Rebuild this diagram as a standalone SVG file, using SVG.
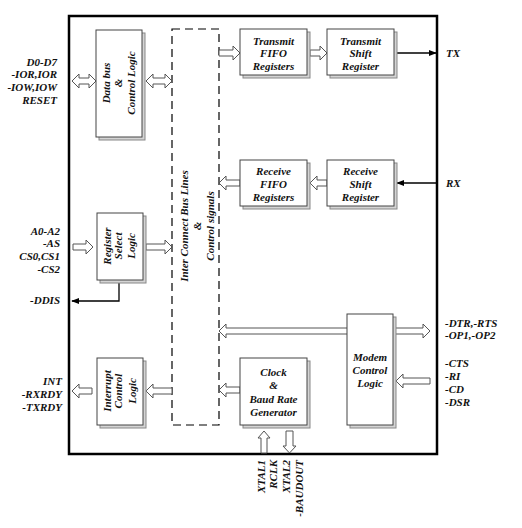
<svg xmlns="http://www.w3.org/2000/svg" width="522" height="528" viewBox="0 0 522 528">
<defs>
<style>
text{font-family:"Liberation Serif","Times New Roman",serif;font-weight:bold;font-style:italic;font-size:11px;fill:#111}
.c{text-anchor:middle}
.e{text-anchor:end}
.box{fill:#fff;stroke:#444;stroke-width:1}
.sh{fill:#d4d4d4;stroke:#888;stroke-width:1}
.ha{fill:#fff;stroke:#555;stroke-width:1}
.ln{fill:none;stroke:#000;stroke-width:1.3}
</style>
<marker id="ah" viewBox="0 0 10 10" refX="9" refY="5" markerWidth="8" markerHeight="8" markerUnits="userSpaceOnUse" orient="auto">
<path d="M0,1 L10,5 L0,9 Z" fill="#000"/>
</marker>
</defs>
<rect width="522" height="528" fill="#fff"/>
<g id="chip">
<rect x="69" y="16" width="368" height="438" fill="none" stroke="#000" stroke-width="2.5"/>
</g>
<g id="bus">
<rect x="172" y="29" width="47" height="396" fill="none" stroke="#000" stroke-width="1.2" stroke-dasharray="8,5"/>
<text transform="translate(187.5,226) rotate(-90)" class="c">Inter Connect Bus Lines</text>
<text transform="translate(201,226) rotate(-90)" class="c">&amp;</text>
<text transform="translate(214,226) rotate(-90)" class="c">Control signals</text>
</g>
<g id="connectors">
<path class="ha" d="M72,81 L79,74 L79,78 L89,78 L89,74 L96,81 L89,88 L89,84 L79,84 L79,88 Z"/>
<path class="ha" d="M146,81 L153,74 L153,78 L165,78 L165,74 L172,81 L165,88 L165,84 L153,84 L153,88 Z"/>
<path class="ha" d="M219,50 L233,50 L233,46 L240,53 L233,60 L233,56 L219,56 Z"/>
<path class="ha" d="M310,50 L320,50 L320,46 L327,53 L320,60 L320,56 L310,56 Z"/>
<line class="ln" x1="397" y1="53" x2="436" y2="53" marker-end="url(#ah)"/>
<path class="ha" d="M327,180 L317,180 L317,176 L310,183 L317,190 L317,186 L327,186 Z"/>
<path class="ha" d="M240,180 L226,180 L226,176 L219,183 L226,190 L226,186 L240,186 Z"/>
<line class="ln" x1="436" y1="183" x2="397" y2="183" marker-end="url(#ah)"/>
<path class="ha" d="M73,244 L86,244 L86,240 L93,247 L86,254 L86,250 L73,250 Z"/>
<path class="ha" d="M146,244 L165,244 L165,240 L172,247 L165,254 L165,250 L146,250 Z"/>
<polyline class="ln" points="119,283 119,301 72,301" marker-end="url(#ah)"/>
<path class="ha" d="M219,331 L226,324 L226,328 L423,328 L423,324 L430,331 L423,338 L423,334 L226,334 L226,338 Z"/>
<path class="ha" d="M430,378 L403,378 L403,374 L396,381 L403,388 L403,384 L430,384 Z"/>
<path class="ha" d="M240,387 L226,387 L226,383 L219,390 L226,397 L226,393 L240,393 Z"/>
<path class="ha" d="M172,388 L153,388 L153,384 L146,391 L153,398 L153,394 L172,394 Z"/>
<path class="ha" d="M92,388 L79,388 L79,384 L72,391 L79,398 L79,394 L92,394 Z"/>
<path class="ha" d="M261,453 L261,438 L258,438 L264,431 L270,438 L267,438 L267,453 Z"/>
<path class="ha" d="M286,431 L286,446 L283,446 L289.5,453 L296,446 L293,446 L293,431 Z"/>
</g>
<g id="databus">
<rect class="sh" x="99" y="33" width="46" height="107"/>
<rect class="box" x="96" y="30" width="46" height="107"/>
<text transform="translate(110,83) rotate(-90)" class="c">Data bus</text>
<text transform="translate(122,83) rotate(-90)" class="c">&amp;</text>
<text transform="translate(135,83) rotate(-90)" class="c">Control Logic</text>
</g>
<g id="regsel">
<rect class="sh" x="100" y="216" width="46" height="67"/>
<rect class="box" x="97" y="213" width="46" height="67"/>
<text transform="translate(110.5,246) rotate(-90)" class="c">Register</text>
<text transform="translate(122,246) rotate(-90)" class="c">Select</text>
<text transform="translate(135,246) rotate(-90)" class="c">Logic</text>
</g>
<g id="interrupt">
<rect class="sh" x="100" y="361" width="46" height="67"/>
<rect class="box" x="97" y="358" width="46" height="67"/>
<text transform="translate(110.5,391) rotate(-90)" class="c">Interrupt</text>
<text transform="translate(122,391) rotate(-90)" class="c">Control</text>
<text transform="translate(136,391) rotate(-90)" class="c">Logic</text>
</g>
<g id="txfifo">
<rect class="sh" x="243" y="32" width="67" height="46"/>
<rect class="box" x="240" y="29" width="67" height="46"/>
<text x="273.5" y="44.5" class="c">Transmit</text>
<text x="273.5" y="57" class="c">FIFO</text>
<text x="273.5" y="69.5" class="c">Registers</text>
</g>
<g id="txshift">
<rect class="sh" x="330" y="32" width="67" height="46"/>
<rect class="box" x="327" y="29" width="67" height="46"/>
<text x="360.5" y="44.5" class="c">Transmit</text>
<text x="360.5" y="57" class="c">Shift</text>
<text x="360.5" y="69.5" class="c">Register</text>
</g>
<g id="rxfifo">
<rect class="sh" x="243" y="163" width="67" height="46"/>
<rect class="box" x="240" y="160" width="67" height="46"/>
<text x="273.5" y="175" class="c">Receive</text>
<text x="273.5" y="187.5" class="c">FIFO</text>
<text x="273.5" y="200.5" class="c">Registers</text>
</g>
<g id="rxshift">
<rect class="sh" x="330" y="163" width="67" height="46"/>
<rect class="box" x="327" y="160" width="67" height="46"/>
<text x="360.5" y="175" class="c">Receive</text>
<text x="360.5" y="187.5" class="c">Shift</text>
<text x="360.5" y="200.5" class="c">Register</text>
</g>
<g id="clock">
<rect class="sh" x="243" y="361" width="67" height="67"/>
<rect class="box" x="240" y="358" width="67" height="67"/>
<text x="273.5" y="376" class="c">Clock</text>
<text x="273.5" y="389" class="c">&amp;</text>
<text x="273.5" y="403" class="c">Baud Rate</text>
<text x="273.5" y="415.5" class="c">Generator</text>
</g>
<g id="modem">
<rect class="sh" x="350" y="317" width="46" height="111"/>
<rect class="box" x="347" y="314" width="46" height="111"/>
<text x="370" y="360.5" class="c">Modem</text>
<text x="370" y="374" class="c">Control</text>
<text x="370" y="386.5" class="c">Logic</text>
</g>
<g id="labels">
<text x="57" y="66" class="e">D0-D7</text>
<text x="57" y="78" class="e">-IOR,IOR</text>
<text x="57" y="91" class="e">-IOW,IOW</text>
<text x="57" y="104" class="e">RESET</text>
<text x="60" y="235" class="e">A0-A2</text>
<text x="60" y="247" class="e">-AS</text>
<text x="60" y="260" class="e">CS0,CS1</text>
<text x="60" y="273" class="e">-CS2</text>
<text x="60" y="304" class="e">-DDIS</text>
<text x="62" y="385" class="e">INT</text>
<text x="62" y="398" class="e">-RXRDY</text>
<text x="62" y="411" class="e">-TXRDY</text>
<text x="446" y="57">TX</text>
<text x="446" y="187">RX</text>
<text x="445" y="327">-DTR,-RTS</text>
<text x="445" y="339">-OP1,-OP2</text>
<text x="445" y="367">-CTS</text>
<text x="445" y="380">-RI</text>
<text x="445" y="393">-CD</text>
<text x="445" y="406">-DSR</text>
<text transform="translate(265,460) rotate(-90)" class="e">XTAL1</text>
<text transform="translate(277,460) rotate(-90)" class="e">RCLK</text>
<text transform="translate(290,460) rotate(-90)" class="e">XTAL2</text>
<text transform="translate(303,460) rotate(-90)" class="e">-BAUDOUT</text>
</g>
</svg>
